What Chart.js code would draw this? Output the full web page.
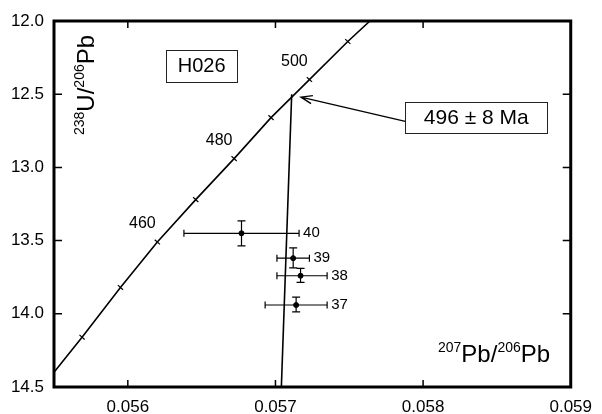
<!DOCTYPE html>
<html>
<head>
<meta charset="utf-8">
<script src="https://cdn.jsdelivr.net/npm/chart.js@4"></script>
<style>
html, body { margin: 0; padding: 0; background: #fff; }
</style>
</head>
<body>
<canvas id="tw-chart" width="602" height="414"></canvas>
<script>
// Concordia curve (ends at the plot edges, ticks every 10 Ma)
var concAges = [null, 440, 450, 460, 470, 480, 490, 500, 510, null];
var concX = [0.0555, 0.05569, 0.05595, 0.05620, 0.05646, 0.05672, 0.05697, 0.05723, 0.05749, 0.05764];
var concY = [14.40, 14.16, 13.82, 13.51, 13.22, 12.94, 12.66, 12.40, 12.14, 12.00];
var labelledAges = [460, 480, 500];

// Discordia line (upper intercept -> bottom edge)
var discX = [0.05711, 0.05704];
var discY = [12.50, 14.50];

// Analyses with error bars
var spotIds = ['40', '39', '38', '37'];
var spotX = [0.05677, 0.05712, 0.05717, 0.05714];
var spotY = [13.45, 13.62, 13.74, 13.94];
var spotXLo = [0.05638, 0.05701, 0.05701, 0.05693];
var spotXHi = [0.05716, 0.05723, 0.05735, 0.05735];
var spotYLo = [13.365, 13.550, 13.690, 13.886];
var spotYHi = [13.536, 13.686, 13.786, 13.987];

// Axis tick labels
var xTicks = [0.056, 0.057, 0.058, 0.059];
var yTicks = [12.0, 12.5, 13.0, 13.5, 14.0, 14.5];

var FONT = '"Liberation Sans", Arial, Helvetica, sans-serif';
Chart.defaults.font.family = FONT;
Chart.defaults.color = '#000';

function pts(xs, ys) {
  return xs.map(function (v, i) { return {x: v, y: ys[i]}; });
}

// text with superscripts: parts = [[text, isSup], ...]
function drawSupText(ctx, parts, x, y) {
  parts.forEach(function (p) {
    ctx.font = (p[1] ? '14px ' : '24px ') + FONT;
    ctx.fillText(p[0], x, p[1] ? y - 10 : y);
    x += ctx.measureText(p[0]).width;
  });
}

var marks = {
  id: 'marks',
  beforeDatasetsDraw: function (chart) {
    var ctx = chart.ctx, x = chart.scales.x, y = chart.scales.y;
    ctx.save();
    ctx.strokeStyle = '#000';
    ctx.lineWidth = 1.2;
    for (var i = 0; i < spotX.length; i++) {
      var px = x.getPixelForValue(spotX[i]), py = y.getPixelForValue(spotY[i]);
      var x0 = x.getPixelForValue(spotXLo[i]), x1 = x.getPixelForValue(spotXHi[i]);
      var y0 = y.getPixelForValue(spotYLo[i]), y1 = y.getPixelForValue(spotYHi[i]);
      ctx.beginPath();
      ctx.moveTo(x0, py); ctx.lineTo(x1, py);
      ctx.moveTo(x0, py - 3.5); ctx.lineTo(x0, py + 3.5);
      ctx.moveTo(x1, py - 3.5); ctx.lineTo(x1, py + 3.5);
      ctx.moveTo(px, y0); ctx.lineTo(px, y1);
      ctx.moveTo(px - 4, y0); ctx.lineTo(px + 4, y0);
      ctx.moveTo(px - 4, y1); ctx.lineTo(px + 4, y1);
      ctx.stroke();
      ctx.font = '15px ' + FONT;
      ctx.fillStyle = '#000';
      ctx.textBaseline = 'middle';
      ctx.textAlign = 'left';
      ctx.fillText(spotIds[i], x1 + 4, py);
    }
    ctx.restore();
  },
  afterDraw: function (chart) {
    var ctx = chart.ctx, a = chart.chartArea, x = chart.scales.x, y = chart.scales.y;
    ctx.save();
    ctx.strokeStyle = '#000';
    ctx.fillStyle = '#000';

    // frame
    ctx.lineWidth = 3;
    ctx.strokeRect(a.left, a.top, a.right - a.left, a.bottom - a.top);

    // inward ticks on all four sides
    ctx.lineWidth = 1.5;
    ctx.beginPath();
    xTicks.forEach(function (v) {
      var p = x.getPixelForValue(v);
      if (p > a.right - 2) return;
      ctx.moveTo(p, a.bottom); ctx.lineTo(p, a.bottom - 7);
      ctx.moveTo(p, a.top); ctx.lineTo(p, a.top + 7);
    });
    yTicks.forEach(function (v) {
      var p = y.getPixelForValue(v);
      if (p < a.top + 2 || p > a.bottom - 2) return;
      ctx.moveTo(a.left, p); ctx.lineTo(a.left + 8, p);
      ctx.moveTo(a.right, p); ctx.lineTo(a.right - 8, p);
    });
    ctx.stroke();

    // age labels on the concordia
    ctx.font = '16px ' + FONT;
    ctx.textAlign = 'center';
    ctx.textBaseline = 'middle';
    labelledAges.forEach(function (age) {
      var i = concAges.indexOf(age);
      ctx.fillText(String(age), x.getPixelForValue(concX[i]) - 15, y.getPixelForValue(concY[i]) - 18);
    });

    // axis titles
    ctx.textAlign = 'left';
    ctx.textBaseline = 'alphabetic';
    drawSupText(ctx, [['207', true], ['Pb/', false], ['206', true], ['Pb', false]], 438, 362);
    ctx.save();
    ctx.translate(94, 135);
    ctx.rotate(-Math.PI / 2);
    drawSupText(ctx, [['238', true], ['U/', false], ['206', true], ['Pb', false]], 0, 0);
    ctx.restore();

    // boxed notes
    var boxes = [
      {text: 'H026', x: 0.05650, y: 12.304, w: 71, h: 32, size: 20},
      {text: '496 \u00b1 8 Ma', x: 0.05836, y: 12.658, w: 142, h: 31, size: 21}
    ];
    ctx.lineWidth = 1;
    ctx.strokeStyle = '#222';
    boxes.forEach(function (b) {
      var cx = x.getPixelForValue(b.x), cy = y.getPixelForValue(b.y);
      ctx.strokeRect(Math.round(cx - b.w / 2) + 0.5, Math.round(cy - b.h / 2) + 0.5, b.w, b.h);
      ctx.font = b.size + 'px ' + FONT;
      ctx.textAlign = 'center';
      ctx.textBaseline = 'middle';
      ctx.fillText(b.text, cx, cy + 1);
    });

    // arrow from the age box to the upper intercept
    var b2 = boxes[1];
    var sx = x.getPixelForValue(b2.x) - b2.w / 2, sy = y.getPixelForValue(b2.y) + 4;
    var tx = x.getPixelForValue(0.057173), ty = y.getPixelForValue(12.52);
    var ang = Math.atan2(ty - sy, tx - sx);
    ctx.lineWidth = 1.4;
    ctx.strokeStyle = '#000';
    ctx.beginPath();
    ctx.moveTo(sx, sy); ctx.lineTo(tx, ty);
    ctx.moveTo(tx - 12 * Math.cos(ang - 0.35), ty - 12 * Math.sin(ang - 0.35));
    ctx.lineTo(tx, ty);
    ctx.lineTo(tx - 12 * Math.cos(ang + 0.35), ty - 12 * Math.sin(ang + 0.35));
    ctx.stroke();

    ctx.restore();
  }
};

new Chart('tw-chart', {
  type: 'scatter',
  data: {
    datasets: [{
      label: 'Concordia',
      data: pts(concX, concY),
      showLine: true,
      borderColor: '#000',
      borderWidth: 1.6,
      pointStyle: 'line',
      pointRotation: 42,
      pointRadius: concAges.map(function (a) { return a ? 3.5 : 0; }),
      pointBorderWidth: 1.2,
      pointBorderColor: '#000'
    }, {
      label: 'Discordia',
      data: pts(discX, discY),
      showLine: true,
      borderColor: '#000',
      borderWidth: 1.6,
      pointRadius: 0
    }, {
      label: 'Analyses',
      data: pts(spotX, spotY),
      backgroundColor: '#000',
      borderColor: '#000',
      pointRadius: 2.5
    }]
  },
  options: {
    responsive: false,
    animation: false,
    devicePixelRatio: 1,
    layout: {padding: {top: 21, right: 22, left: 0, bottom: 0}},
    plugins: {legend: {display: false}, tooltip: {enabled: false}},
    scales: {
      x: {
        type: 'linear',
        min: 0.0555,
        max: 0.059,
        grid: {display: false, drawTicks: false},
        border: {display: false},
        ticks: {font: {size: 17}, color: '#000', padding: 10, callback: function (v) { return v.toFixed(3); }},
        afterBuildTicks: function (s) { s.ticks = xTicks.map(function (v) { return {value: v}; }); },
        afterFit: function (s) { s.height = 27; }
      },
      y: {
        type: 'linear',
        reverse: true,
        min: 12,
        max: 14.5,
        grid: {display: false, drawTicks: false},
        border: {display: false},
        ticks: {font: {size: 17}, color: '#000', padding: 10, callback: function (v) { return v.toFixed(1); }},
        afterBuildTicks: function (s) { s.ticks = yTicks.map(function (v) { return {value: v}; }); },
        afterFit: function (s) { s.width = 54; }
      }
    }
  },
  plugins: [marks]
});
</script>
</body>
</html>
